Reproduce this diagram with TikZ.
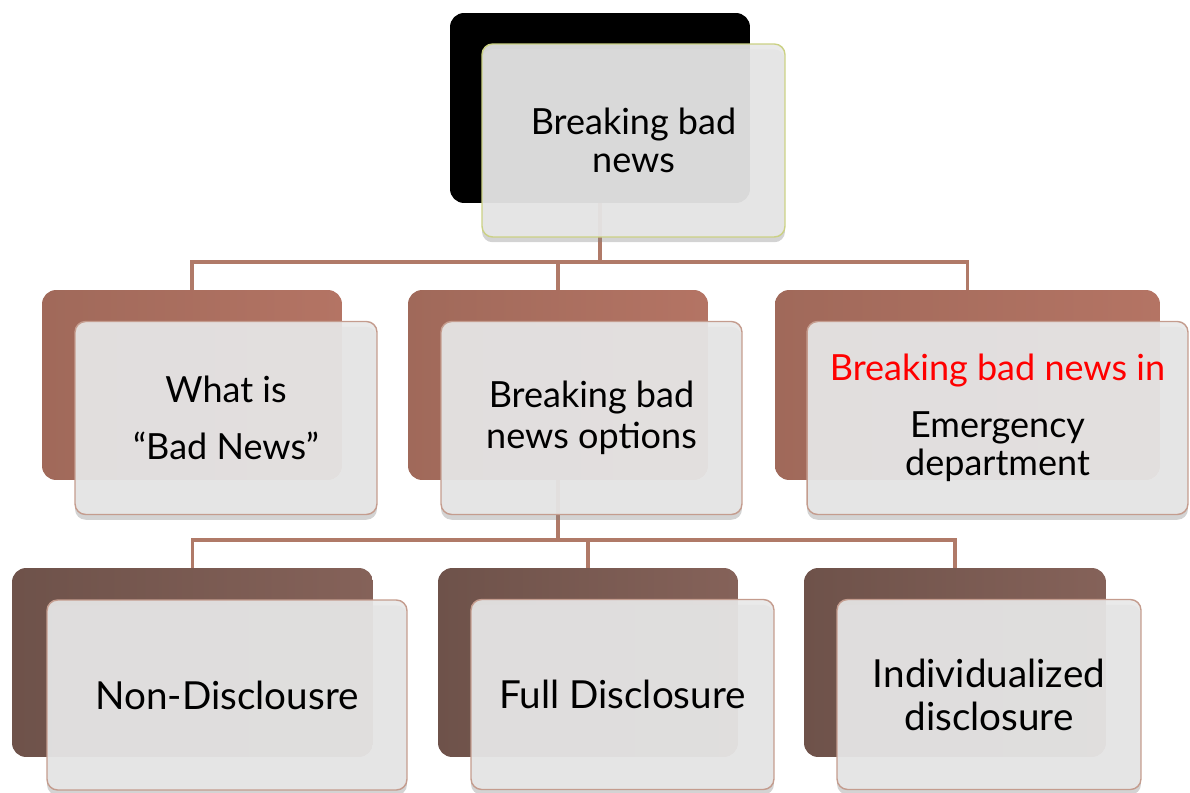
\documentclass[tikz,border=0pt]{standalone}
\usepackage{fontspec}
\setmainfont{Lato}
\usetikzlibrary{shadows}

\definecolor{linkbrown}{HTML}{B07A68}
\definecolor{midL}{HTML}{A0695A}
\definecolor{midM}{HTML}{C4826E}
\definecolor{midR}{HTML}{B47464}
\definecolor{lowL}{HTML}{6E524A}
\definecolor{lowM}{HTML}{927068}
\definecolor{lowR}{HTML}{856259}
\definecolor{cardgray}{HTML}{E8E8E8}
\definecolor{cardedge}{HTML}{C49C8E}
\definecolor{topedge}{HTML}{CBD184}

\tikzset{
  back/.style={rounded corners=8pt, minimum height=3.8cm, inner sep=0pt},
  midback/.style={back, left color=midL, middle color=midM, right color=midR},
  lowback/.style={back, left color=lowL, middle color=lowM, right color=lowR},
  card/.style={rounded corners=6pt, draw=cardedge, line width=.8pt,
    fill=cardgray, fill opacity=.92, text opacity=1,
    minimum height=3.86cm, inner sep=0pt, align=center,
    font=\fontsize{20.5}{21.5}\selectfont,
    drop shadow={shadow xshift=0pt, shadow yshift=-3pt, opacity=.35}},
  lowcard/.style={card, font=\fontsize{22}{21.5}\selectfont},
  link/.style={draw=linkbrown, line width=2pt},
}

\begin{document}
\begin{tikzpicture}[x=0.02cm,y=-0.02cm]
  \useasboundingbox (0,0) rectangle (1190,793);

  %% back boxes
  \node[back, fill=black, minimum width=6cm] (topB) at (600,108) {};

  \node[midback, minimum width=6cm] (whatB) at (192,385) {};
  \node[midback, minimum width=6cm] (optB) at (558,385) {};
  \node[midback, minimum width=7.7cm] (edB) at (967.5,385) {};

  \node[lowback, minimum width=7.22cm, minimum height=3.78cm] (nonB) at (192.5,662.5) {};
  \node[lowback, minimum width=6cm, minimum height=3.78cm] (fullB) at (588,662.5) {};
  \node[lowback, minimum width=6.04cm, minimum height=3.78cm] (indB) at (955,662.5) {};

  %% connectors
  \coordinate (bus1) at (0,262);
  \coordinate (bus2) at (0,540);
  \foreach \n in {whatB,optB,edB}
    \draw[link] (topB.south) -- (topB.south |- bus1) -| (\n.north);
  \foreach \n in {nonB,fullB,indB}
    \draw[link] (optB.south) -- (optB.south |- bus2) -| (\n.north);

  %% front cards
  \node[card, draw=topedge, minimum width=6.06cm] (top) at (633.5,140.5) {Breaking bad\\news};

  \node[card, minimum width=6.04cm] (what) at (226,418) {What is\\[11pt]“Bad News”};
  \node[card, minimum width=6.02cm] (opt) at (591.5,418) {Breaking bad\\[2pt]news options};
  \node[card, minimum width=7.62cm] (ed) at (997.5,418)
    {\textcolor{red}{Breaking bad news in}\\[11pt]Emergency\\department};

  \node[lowcard, minimum width=7.2cm, minimum height=3.8cm] (non) at (227,695) {Non-Disclousre};
  \node[lowcard, minimum width=6.06cm, minimum height=3.8cm] (full) at (622.5,694.5) {Full Disclosure};
  \node[lowcard, minimum width=6.08cm, minimum height=3.8cm] (ind) at (989,694.5) {Individualized\\[3pt]disclosure};
\end{tikzpicture}
\end{document}
